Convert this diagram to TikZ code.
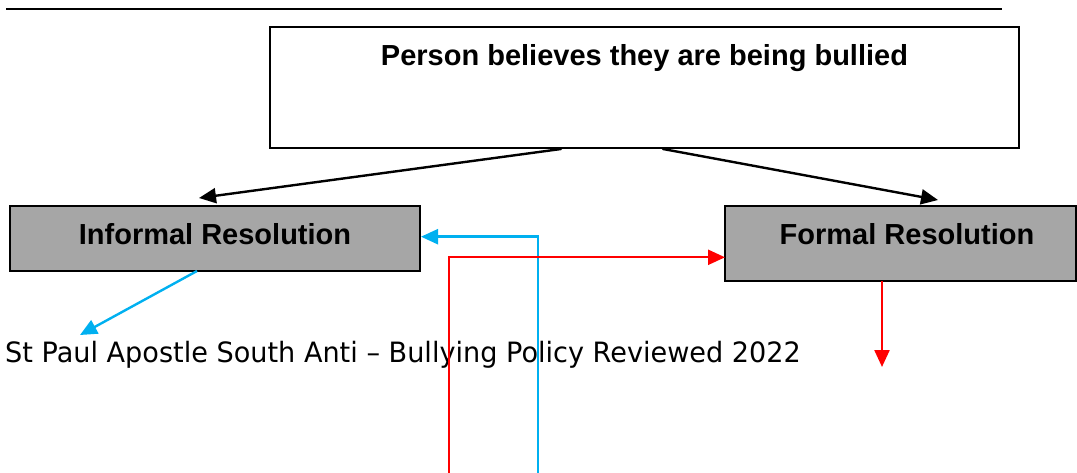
\documentclass[tikz,border=0pt]{standalone}
\usepackage{fontspec}
\setmainfont{Liberation Sans}
\newfontfamily\notefont{DejaVu Sans}
\usetikzlibrary{arrows.meta,calc}
\definecolor{boxgray}{HTML}{A6A6A6}
\definecolor{skyblue}{HTML}{00B0F0}
\definecolor{alertred}{HTML}{FF0000}
\begin{document}
\begin{tikzpicture}[x=1pt,y=-1pt,
  frame/.style={draw=black,line width=2.2pt,rectangle,inner sep=0pt,outer sep=0pt},
  graybox/.style={frame,fill=boxgray},
  boxtext/.style={font=\fontsize{29}{34}\selectfont\bfseries,anchor=base,inner sep=0pt},
  flow/.style={line width=2.4pt},
  tip/.style={-{Triangle[length=17pt,width=15pt,fill=#1]}},
  blueflow/.style={flow,draw=skyblue,tip=skyblue},
  redflow/.style={flow,draw=alertred,tip=alertred},
  blackflow/.style={flow,draw=black,line cap=round,tip=black}]
  \useasboundingbox (0,0) rectangle (1077,473);

  % rule across the top of the page
  \draw[line width=2.2pt] (6,9) -- (1002,9);

  % boxes
  \node[frame,fill=white,minimum width=749pt,minimum height=121pt] (start) at (644.5,87.5) {};
  \node[boxtext] (starttext) at (644.5,66) {Person believes they are being bullied};

  \node[graybox,minimum width=410pt,minimum height=65pt] (informal) at (215,238.5) {};
  \node[boxtext] (informaltext) at (215,245) {Informal Resolution};

  \node[graybox,minimum width=351pt,minimum height=75pt] (formal) at (900.5,243.5) {};
  \node[boxtext] (formaltext) at (907,245) {Formal Resolution};

  % footer text of the page
  \node[font=\notefont\fontsize{28}{32}\selectfont,anchor=base west,inner sep=0pt] (footer) at (5,362)
    {\scalebox{0.968}[1]{St Paul Apostle South Anti – Bullying Policy Reviewed 2022}};

  % free ends of the connectors
  \coordinate (informalout) at (80,335);
  \coordinate (formalout) at (882,367);
  \coordinate (blueend) at (538,473);
  \coordinate (redend) at (449,473);

  % connectors from the top box
  \draw[blackflow] ($(start.south)+(-83.5,1)$) -- ($(informal.north)+(-16,-8)$);
  \draw[blackflow] ($(start.south)+(18.5,1)$) -- ($(formal.north)+(37.5,-6)$);

  % connectors out of the resolution boxes
  \draw[blueflow] ($(informal.south)+(-18,0)$) -- (informalout);
  \draw[redflow] ($(formal.south)+(-18.5,0)$) -- (formalout);

  % long return lines
  \draw[blueflow] (blueend) |- ($(informal.east)+(1,-1.8)$);
  \draw[redflow] (redend) |- ($(formal.west)+(0,13.8)$);
\end{tikzpicture}
\end{document}
